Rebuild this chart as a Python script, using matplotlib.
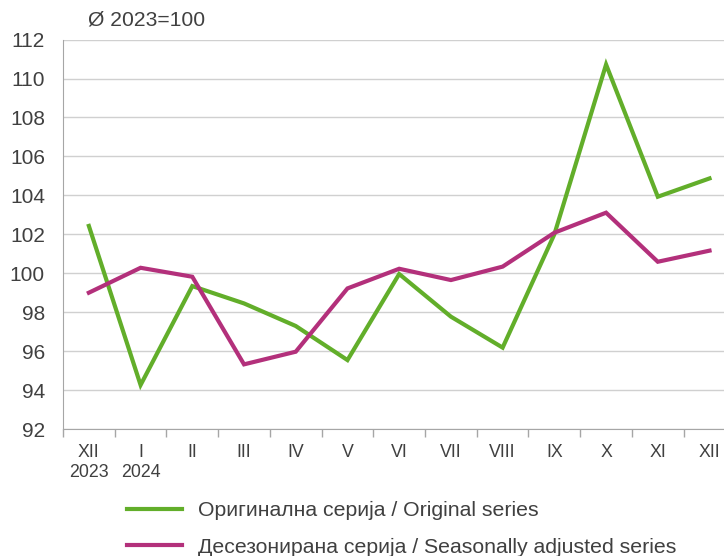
import matplotlib
matplotlib.use("Agg")
import matplotlib.pyplot as plt
import numpy as np

months = ["XII\n2023", "I\n2024", "II", "III", "IV", "V", "VI", "VII", "VIII", "IX", "X", "XI", "XII"]
original = [102.43, 94.26, 99.34, 98.45, 97.29, 95.54, 99.96, 97.77, 96.18, 102.0, 110.72, 103.93, 104.87]
seas_adj = [99.0, 100.28, 99.82, 95.32, 95.97, 99.22, 100.23, 99.65, 100.34, 102.08, 103.11, 100.59, 101.16]
yticks = list(range(92, 113, 2))
label_orig = "Оригинална серија / Original series"
label_sa = "Десезонирана серија / Seasonally adjusted series"
title = "Ø 2023=100"

plt.rcParams['font.family'] = ['Liberation Sans', 'DejaVu Sans']
W, H = 724, 556
fig = plt.figure(figsize=(W/100, H/100), dpi=100)
ax = fig.add_axes([63/W, 1-429/H, 1-63/W, (429-39.6)/H])

x = np.arange(len(months))
green = "#62AE2A"
mag = "#B3307B"
ax.plot(x, original, color=green, lw=3, solid_joinstyle='miter', label=label_orig, zorder=3)
ax.plot(x, seas_adj, color=mag, lw=3, solid_joinstyle='miter', label=label_sa, zorder=3)

ax.set_ylim(92, 112)
ax.set_yticks(yticks)
ax.set_xlim(-0.5, 12.28)
ax.set_xticks(x)
ax.set_xticklabels(months, linespacing=1.22)
ax.set_xticks(np.arange(-0.5, 12.5, 1), minor=True)
ax.tick_params(axis='x', which='major', length=0, pad=11, labelsize=12.8, colors='#404040')
ax.tick_params(axis='x', which='minor', length=6, width=1, color='#A6A6A6')
ax.tick_params(axis='y', length=0, pad=13, labelsize=15, labelcolor='#404040')
ax.grid(axis='y', color='#D0D0D0', lw=1)
ax.set_axisbelow(True)
for s in ['top', 'right']:
    ax.spines[s].set_visible(False)
ax.spines['left'].set_color('#A6A6A6')
ax.spines['bottom'].set_color('#A6A6A6')
ax.spines['left'].set_zorder(4)

fig.text(88/W, 1-20/H, title, fontsize=15.2, color='#404040', va='center', ha='left')

leg = fig.legend(loc='upper left', bbox_to_anchor=(108/W, 1-482/H), frameon=False,
                 fontsize=15.3, handlelength=2.6, handletextpad=0.75, labelspacing=0.82,
                 labelcolor='#404040')
for h in leg.get_lines():
    h.set_linewidth(3)

fig.savefig("out.png", dpi=100)
